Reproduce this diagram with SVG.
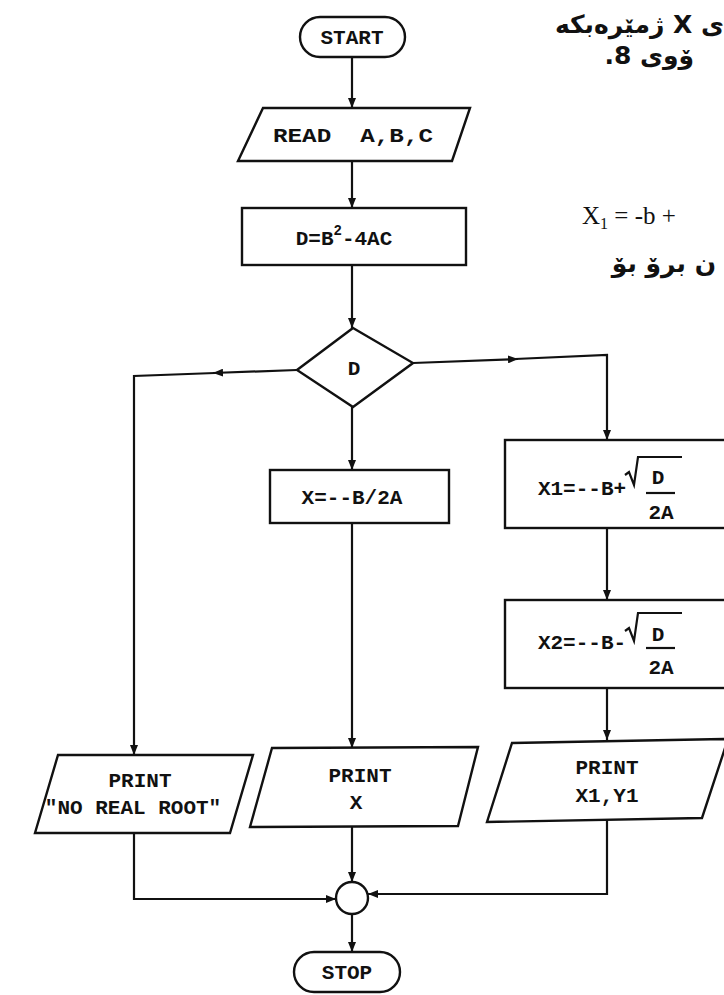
<svg xmlns="http://www.w3.org/2000/svg" width="724" height="995" viewBox="0 0 724 995">
<style>
.s{fill:#fff;stroke:#111;stroke-width:2.4}
.c{fill:none;stroke:#111;stroke-width:2.2}
.t{font-family:"Liberation Mono","DejaVu Sans Mono",monospace;font-weight:bold;font-size:21px;fill:#111;text-anchor:middle}
.ar{font-family:"DejaVu Sans",sans-serif;font-weight:bold;font-size:25px;fill:#111}
</style>
<defs>
<marker id="a" viewBox="0 0 10 8" refX="10" refY="4" markerWidth="10" markerHeight="8" markerUnits="userSpaceOnUse" orient="auto">
<path d="M0,0 L10,4 L0,8 Z" fill="#111"/>
</marker>
</defs>
<rect width="724" height="995" fill="#fff"/>

<g id="page-text">
<text class="ar" x="724" y="33" direction="rtl" text-anchor="start">ی X ژمێرەبکە</text>
<text class="ar" x="694" y="64" direction="rtl" text-anchor="start">ۆوی 8.</text>
<text x="582" y="224" font-family="Liberation Serif,serif" font-size="25" fill="#111">X<tspan font-size="16" dy="5">1</tspan><tspan dy="-5"> = -b +</tspan></text>
<text class="ar" x="716" y="272" direction="rtl" text-anchor="start">ن برۆ بۆ</text>
</g>

<g id="connectors">
<path class="c" d="M352,57 V108" marker-end="url(#a)"/>
<path class="c" d="M352,161 V208" marker-end="url(#a)"/>
<path class="c" d="M352,265 V328" marker-end="url(#a)"/>
<path class="c" d="M297,370 L213,373" marker-end="url(#a)"/>
<path class="c" d="M215,373 L134,376 V755" marker-end="url(#a)"/>
<path class="c" d="M413,363 L518,359" marker-end="url(#a)"/>
<path class="c" d="M515,359 L607,355 V440" marker-end="url(#a)"/>
<path class="c" d="M352,407 V470" marker-end="url(#a)"/>
<path class="c" d="M607,528 V600" marker-end="url(#a)"/>
<path class="c" d="M607,688 V740" marker-end="url(#a)"/>
<path class="c" d="M352,523 V748" marker-end="url(#a)"/>
<path class="c" d="M134,833 V899 H336" marker-end="url(#a)"/>
<path class="c" d="M352,826 V882" marker-end="url(#a)"/>
<path class="c" d="M607,820 V894 H368" marker-end="url(#a)"/>
<path class="c" d="M352,914 V952" marker-end="url(#a)"/>
</g>

<g id="start"><rect class="s" x="300" y="17" width="105" height="40" rx="20"/><text class="t" x="352" y="44">START</text></g>
<g id="read"><polygon class="s" points="263,108 470,108 452,161 238,161"/><text class="t" x="353" y="142" xml:space="preserve" textLength="160" lengthAdjust="spacingAndGlyphs">READ  A,B,C</text></g>
<g id="calc-d"><rect class="s" x="242" y="208" width="224" height="57"/><text class="t" x="344" y="245">D=B<tspan font-size="14" dy="-10">2</tspan><tspan dy="10">-4AC</tspan></text></g>
<g id="decision"><polygon class="s" points="353,328 413,363 353,407 297,370"/><text class="t" x="354" y="375">D</text></g>
<g id="x-single"><rect class="s" x="270" y="470" width="179" height="53"/><text class="t" x="352" y="504">X=--B/2A</text></g>
<g id="x1"><rect class="s" x="505" y="440" width="235" height="88"/>
<text class="t" x="582" y="495">X1=--B+</text>
<path class="c" d="M625,475 L629,472 L634,485 L638,457 L682,457"/>
<text class="t" x="658" y="484">D</text><line class="c" x1="646" y1="493" x2="675" y2="493"/>
<text class="t" x="661" y="519">2A</text></g>
<g id="x2"><rect class="s" x="505" y="600" width="235" height="88"/>
<text class="t" x="582" y="649">X2=--B-</text>
<path class="c" d="M625,631 L629,628 L634,641 L638,613 L682,613"/>
<text class="t" x="658" y="641">D</text><line class="c" x1="646" y1="648" x2="675" y2="648"/>
<text class="t" x="661" y="674">2A</text></g>
<g id="print-noroot"><polygon class="s" points="58,755 253,755 230,833 35,833"/><text class="t" x="140" y="787">PRINT</text><text class="t" x="133" y="814">"NO REAL ROOT"</text></g>
<g id="print-x"><polygon class="s" points="272,748 478,747 458,826 250,827"/><text class="t" x="360" y="782">PRINT</text><text class="t" x="356" y="809">X</text></g>
<g id="print-x1y1"><polygon class="s" points="512,743 728,739 702,818 487,822"/><text class="t" x="607" y="774">PRINT</text><text class="t" x="607" y="802">X1,Y1</text></g>
<g id="connector-node"><circle class="s" cx="352" cy="898" r="16"/></g>
<g id="stop"><rect class="s" x="294" y="952" width="106" height="40" rx="20"/><text class="t" x="347" y="979">STOP</text></g>
</svg>
